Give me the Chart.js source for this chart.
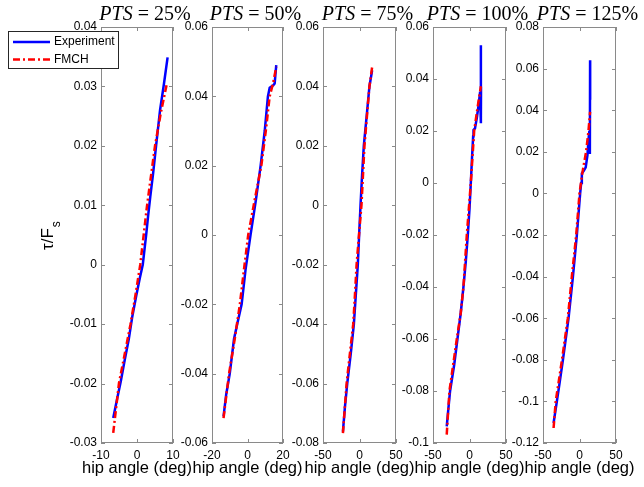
<!DOCTYPE html>
<html>
<head>
<meta charset="utf-8">
<script src="https://cdn.jsdelivr.net/npm/chart.js@4.4.1/dist/chart.umd.min.js"></script>
<style>
  html, body { margin: 0; padding: 0; background: #fff; }
  #wrap { position: relative; width: 644px; height: 487px; overflow: hidden; }
  #wrap canvas { position: absolute; top: 0; }
</style>
</head>
<body>
<div id="wrap"></div>
<script>
// PTS = 25%
const exp25X = [-6.6, -5.5, -4.5, -3.4, -2.3, -1.3, -0.2, 0.8, 1.6, 2.6, 3.1, 3.7, 4.5, 5.3, 6.4, 7.5, 8.5];
const exp25Y = [-0.0258, -0.0225, -0.0196, -0.0160, -0.0126, -0.0087, -0.0052, -0.0022, 0.0000, 0.0053, 0.0083, 0.0115, 0.0155, 0.0200, 0.0260, 0.0305, 0.0349];
const fmch25X = [-6.6, -5.0, -3.4, -1.8, -0.4, 0.9, 2.8, 5.0, 6.6, 8.3];
const fmch25Y = [-0.0283, -0.0199, -0.0150, -0.0100, -0.0050, 0.0000, 0.0100, 0.0200, 0.0255, 0.0305];

// PTS = 50%
const exp50X = [-13.5, -12, -10, -7.6, -5.5, -3.3, -1.1, 1.7, 4.7, 7.4, 9.7, 11.5, 12.5, 14.5, 15.3, 16.2];
const exp50Y = [-0.0523, -0.046, -0.040, -0.030, -0.025, -0.020, -0.010, 0.000, 0.010, 0.020, 0.030, 0.040, 0.0425, 0.0432, 0.0437, 0.049];
const fmch50X = [-13.5, -10.4, -7.2, -4.3, -2.0, 0.4, 4.0, 7.8, 10.3, 12.5, 14.5, 16.2];
const fmch50Y = [-0.0528, -0.040, -0.030, -0.020, -0.010, 0.000, 0.010, 0.020, 0.030, 0.040, 0.044, 0.0485];

// PTS = 75%
const exp75X = [-22.7, -20, -16.8, -12, -7.7, -5, -2.3, -0.5, 1.4, 3.5, 5.9, 9.8, 13.6, 17.3];
const exp75Y = [-0.0762, -0.068, -0.060, -0.050, -0.040, -0.030, -0.020, -0.010, 0.000, 0.010, 0.020, 0.030, 0.040, 0.0454];
const fmch75X = [-22.7, -17.7, -13.2, -8.6, -6.2, -4.0, -0.7, 2.7, 6.8, 10.2, 13.6, 17.3];
const fmch75Y = [-0.0767, -0.060, -0.050, -0.040, -0.030, -0.020, -0.010, 0.000, 0.020, 0.030, 0.040, 0.0465];

// PTS = 100%
const exp100X = [-31.2, -29, -26.6, -21, -16.5, -12, -8.3, -5, -2.3, 0, 1.8, 3.5, 5.0, 5.5, 7.5, 10, 12.5, 14.5, 15.6, 15.6, 15.6, 15.8];
const exp100Y = [-0.0936, -0.087, -0.080, -0.070, -0.060, -0.050, -0.040, -0.030, -0.020, -0.010, 0.000, 0.010, 0.018, 0.0204, 0.021, 0.025, 0.030, 0.035, 0.023, 0.053, 0.025, 0.037];
const fmch100X = [-31.2, -27.5, -17.4, -12, -8.3, -3.7, 1.8, 6.4, 11, 15.6];
const fmch100Y = [-0.0968, -0.080, -0.060, -0.050, -0.040, -0.020, 0.000, 0.020, 0.029, 0.0372];

// PTS = 125%
const exp125X = [-35.5, -31, -26.8, -22.7, -15, -9, -3.6, 0.9, 2.3, 3.2, 6, 8.5, 10.9, 12.3, 13.5, 14.2, 14.5, 14.6];
const exp125Y = [-0.1104, -0.100, -0.090, -0.080, -0.060, -0.040, -0.020, 0.000, 0.005, 0.0096, 0.011, 0.0125, 0.0184, 0.0256, 0.030, 0.019, 0.064, 0.045];
const fmch125X = [-35.5, -32.6, -24, -16, -10.5, -4.5, 0, 4, 9, 12.3, 14.5];
const fmch125Y = [-0.1128, -0.100, -0.080, -0.060, -0.040, -0.020, 0.000, 0.010, 0.020, 0.030, 0.0392];

const ptsLabels = ['25%', '50%', '75%', '100%', '125%'];
const xMin = [-10, -20, -50, -50, -50];
const xMax = [10, 20, 50, 50, 50];
const xStep = [10, 20, 50, 50, 50];
const yMin = [-0.03, -0.06, -0.08, -0.1, -0.12];
const yMax = [0.04, 0.06, 0.06, 0.06, 0.08];
const yStep = [0.01, 0.02, 0.02, 0.02, 0.02];
const xLabel = 'hip angle (deg)';

const panels = [
    [exp25X, exp25Y, fmch25X, fmch25Y],
    [exp50X, exp50Y, fmch50X, fmch50Y],
    [exp75X, exp75Y, fmch75X, fmch75Y],
    [exp100X, exp100Y, fmch100X, fmch100Y],
    [exp125X, exp125Y, fmch125X, fmch125Y]
];

// layout in page pixels
const panelLeft = [101, 212, 323, 433, 543];
const panelWidth = [72, 71, 73, 73, 73];
const plotTop = 27;
const plotBottom = 443;
const H = 487;
const padR = 30;

const sans = 'Liberation Sans, Arial, sans-serif';
const serif = 'Liberation Serif, Times New Roman, serif';
const axisGray = '#8a8a8a';

const toPoints = (xs, ys) => xs.map((x, i) => ({ x: x, y: ys[i] }));
const fmt = v => String(+(+v).toFixed(3));

// box, inner ticks, titles, x label, legend, y label
const deco = {
    id: 'panelDeco',
    beforeDatasetsDraw(chart) {
        const { ctx, chartArea: a, scales: { x, y } } = chart;
        ctx.save();
        ctx.strokeStyle = axisGray;
        ctx.lineWidth = 1;
        ctx.strokeRect(Math.round(a.left) + 0.5, Math.round(a.top) + 0.5,
            Math.round(a.right - a.left) - 1, Math.round(a.bottom - a.top) - 1);
        ctx.beginPath();
        x.ticks.forEach(t => {
            const px = Math.round(x.getPixelForValue(t.value)) + 0.5;
            ctx.moveTo(px, a.bottom); ctx.lineTo(px, a.bottom - 4);
            ctx.moveTo(px, a.top); ctx.lineTo(px, a.top + 4);
        });
        y.ticks.forEach(t => {
            const py = Math.round(y.getPixelForValue(t.value)) + 0.5;
            ctx.moveTo(a.left, py); ctx.lineTo(a.left + 4, py);
            ctx.moveTo(a.right, py); ctx.lineTo(a.right - 4, py);
        });
        ctx.stroke();
        ctx.restore();
    },
    afterDraw(chart, args, opts) {
        const { ctx, chartArea: a } = chart;
        ctx.save();
        // title: italic PTS, upright rest
        const center = (a.left + a.right) / 2 + 8;
        ctx.font = 'italic 20px ' + serif;
        const w1 = ctx.measureText('PTS').width;
        ctx.font = '20px ' + serif;
        const rest = ' = ' + opts.title;
        const w2 = ctx.measureText(rest).width;
        let tx = center - (w1 + w2) / 2;
        ctx.fillStyle = '#000';
        ctx.textBaseline = 'alphabetic';
        ctx.textAlign = 'left';
        ctx.font = 'italic 20px ' + serif;
        ctx.fillText('PTS', tx, 20);
        ctx.font = '20px ' + serif;
        ctx.fillText(rest, tx + w1, 20);

        // x label
        ctx.font = '16.5px ' + sans;
        ctx.textAlign = 'center';
        ctx.textBaseline = 'middle';
        ctx.fillText(xLabel, (a.left + a.right) / 2, 468);
        ctx.textAlign = 'left';

        if (opts.first) {
            // y label
            ctx.save();
            ctx.translate(53, 236);
            ctx.rotate(-Math.PI / 2);
            ctx.font = '17px ' + sans;
            ctx.textBaseline = 'alphabetic';
            ctx.fillText('\u03c4/F', -14, 0);
            const wm = ctx.measureText('\u03c4/F').width;
            ctx.font = '12px ' + sans;
            ctx.fillText('s', -14 + wm + 1, 7);
            ctx.restore();

            // legend
            const ds = chart.data.datasets;
            ctx.fillStyle = '#fff';
            ctx.fillRect(8, 31, 110, 37);
            ctx.strokeStyle = '#262626';
            ctx.lineWidth = 1;
            ctx.strokeRect(8.5, 31.5, 110, 37);
            ctx.font = '12px ' + sans;
            ctx.textBaseline = 'middle';
            ds.forEach((d, k) => {
                const ly = 42 + k * 17.5;
                ctx.beginPath();
                ctx.strokeStyle = d.borderColor;
                ctx.lineWidth = d.borderWidth;
                ctx.setLineDash(d.borderDash || []);
                ctx.moveTo(13, ly); ctx.lineTo(50, ly);
                ctx.stroke();
                ctx.setLineDash([]);
                ctx.fillStyle = '#000';
                ctx.fillText(d.label, 54, ly);
            });
        }
        ctx.restore();
    }
};

const wrap = document.getElementById('wrap');

panels.forEach((p, i) => {
    const padL = i === 0 ? panelLeft[0] : 50;
    const cv = document.createElement('canvas');
    cv.width = padL + panelWidth[i] + padR;
    cv.height = H;
    cv.style.left = (panelLeft[i] - padL) + 'px';
    wrap.appendChild(cv);

    new Chart(cv, {
        type: 'scatter',
        data: {
            datasets: [
                {
                    label: 'Experiment',
                    data: toPoints(p[0], p[1]),
                    borderColor: '#0000ff',
                    backgroundColor: '#0000ff',
                    borderWidth: 2.5,
                    showLine: true,
                    pointRadius: 0,
                    tension: 0,
                    order: 2
                },
                {
                    label: 'FMCH',
                    data: toPoints(p[2], p[3]),
                    borderColor: '#ff0000',
                    backgroundColor: '#ff0000',
                    borderWidth: 2.5,
                    borderDash: [7, 3, 2, 3],
                    showLine: true,
                    pointRadius: 0,
                    tension: 0,
                    order: 1
                }
            ]
        },
        options: {
            responsive: false,
            animation: false,
            devicePixelRatio: 1,
            layout: { padding: { left: 0, right: padR, top: plotTop, bottom: 0 } },
            plugins: {
                legend: { display: false },
                tooltip: { enabled: false },
                panelDeco: { title: ptsLabels[i], first: i === 0 }
            },
            scales: {
                x: {
                    type: 'linear',
                    min: xMin[i], max: xMax[i],
                    afterFit: s => { s.height = H - plotBottom; },
                    ticks: {
                        stepSize: xStep[i], padding: 5, color: '#000',
                        font: { family: sans, size: 12 },
                        callback: fmt, maxRotation: 0, autoSkip: false
                    },
                    grid: { display: false, drawTicks: false },
                    border: { display: false }
                },
                y: {
                    type: 'linear',
                    min: yMin[i], max: yMax[i],
                    afterFit: s => { s.width = padL; },
                    ticks: {
                        stepSize: yStep[i], padding: 4, color: '#000',
                        font: { family: sans, size: 12 },
                        callback: fmt, autoSkip: false
                    },
                    grid: { display: false, drawTicks: false },
                    border: { display: false }
                }
            }
        },
        plugins: [deco]
    });
});
</script>
</body>
</html>
